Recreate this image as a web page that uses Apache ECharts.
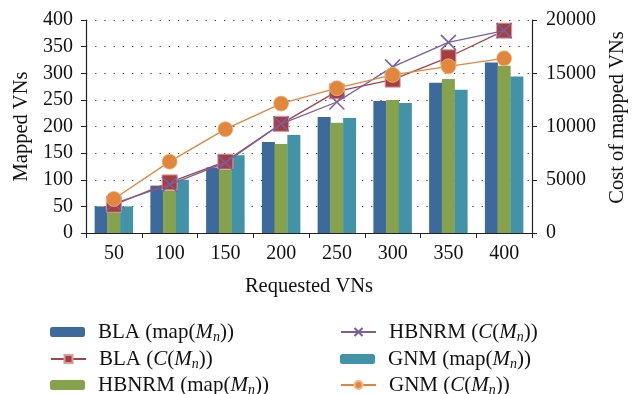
<!DOCTYPE html>
<html>
<head>
<meta charset="utf-8">
<script src="https://cdn.jsdelivr.net/npm/echarts@6/dist/echarts.min.js"></script>
<style>
  html, body { margin: 0; padding: 0; background: #fff; }
  #chart { width: 640px; height: 394px; }
</style>
</head>
<body>
<div id="chart"></div>
<script>
// Requested VNs on the category axis
const categories = ['50', '100', '150', '200', '250', '300', '350', '400'];

// Number of mapped VNs (left axis)
const blaMap = [50, 89, 123, 171, 218, 248, 282, 320];
const hbnrmMap = [44, 80, 119, 167, 207, 250, 289, 314];
const gnmMap = [50, 100, 146, 184, 216, 244, 269, 294];

// Cost of mapped VNs (right axis)
const blaCost = [2650, 4750, 6700, 10250, 13300, 14400, 16500, 19000];
const hbnrmCost = [2750, 4550, 6600, 10250, 12300, 15600, 17900, 19000];
const gnmCost = [3200, 6700, 9750, 12150, 13600, 14850, 15650, 16400];

const leftTicks = { min: 0, max: 400, interval: 50 };
const rightTicks = { min: 0, max: 20000, interval: 5000 };

const FONT = '"Liberation Serif", "DejaVu Serif", serif';
const INK = '#111';
const C = {
  blaBar: '#3d6a9d',
  hbnrmBar: '#87a24d',
  gnmBar: '#4293a8',
  blaLine: '#a3434a',
  hbnrmLine: '#7a5fa0',
  gnmLine: '#e0873b'
};

const names = {
  blaMap: 'BLA (map(Mn))',
  blaCost: 'BLA (C(Mn))',
  hbnrmMap: 'HBNRM (map(Mn))',
  hbnrmCost: 'HBNRM (C(Mn))',
  gnmMap: 'GNM (map(Mn))',
  gnmCost: 'GNM (C(Mn))'
};

// Legend labels with italic M, subscript n and italic C
function legendLabel(name) {
  const m = name.match(/^(\S+) \((map|C)\(Mn\)\)$/);
  if (!m) return name;
  const fn = m[2] === 'C' ? '{i|C}' : 'map';
  return m[1] + ' (' + fn + '({i|M}{s|n}))';
}

const legendText = {
  fontFamily: FONT,
  fontSize: 21,
  lineHeight: 24,
  color: INK,
  padding: [0, 0, 0, 8],
  rich: {
    i: { fontFamily: FONT, fontSize: 21, lineHeight: 24, fontStyle: 'italic', color: INK },
    s: { fontFamily: FONT, fontSize: 14, lineHeight: 24, fontStyle: 'italic', color: INK, padding: [10, 0, 0, 0] }
  }
};

// One legend entry per block so the two columns keep their reading order
const legendSlots = [
  { name: names.blaMap, left: 50, top: 320 },
  { name: names.blaCost, left: 50, top: 347 },
  { name: names.hbnrmMap, left: 50, top: 373 },
  { name: names.hbnrmCost, left: 340, top: 320 },
  { name: names.gnmMap, left: 340, top: 347 },
  { name: names.gnmCost, left: 340, top: 373 }
];

const crossPath = 'path://M0,0L10,10M10,0L0,10';
const tickFont = { fontFamily: FONT, fontSize: 20, color: INK };
const nameFont = { fontFamily: FONT, fontSize: 20.5, color: INK };

const chart = echarts.init(document.getElementById('chart'), null, { renderer: 'canvas' });

chart.setOption({
  animation: false,
  backgroundColor: '#fff',
  textStyle: { fontFamily: FONT },
  grid: { left: 86, right: 108, top: 20, bottom: 161, containLabel: false },
  legend: legendSlots.map(s => ({
    left: s.left,
    top: s.top,
    padding: 0,
    itemWidth: 35,
    itemHeight: 10,
    data: [s.name],
    formatter: legendLabel,
    textStyle: legendText
  })),
  xAxis: [
    {
      type: 'category',
      data: categories,
      boundaryGap: true,
      name: 'Requested VNs',
      nameLocation: 'middle',
      nameGap: 43,
      nameTextStyle: nameFont,
      axisLine: { lineStyle: { color: '#222', width: 1.2 } },
      axisTick: { show: true, inside: false, length: 5, alignWithLabel: false, lineStyle: { color: '#222' } },
      axisLabel: Object.assign({ margin: 11 }, tickFont),
      splitLine: { show: false }
    },
    {
      type: 'category',
      data: categories,
      position: 'top',
      axisLine: { show: true, lineStyle: { color: '#222', width: 1.2 } },
      axisTick: { show: false },
      axisLabel: { show: false },
      splitLine: { show: false }
    }
  ],
  yAxis: [
    {
      type: 'value',
      min: leftTicks.min,
      max: leftTicks.max,
      interval: leftTicks.interval,
      name: 'Mapped VNs',
      nameLocation: 'middle',
      nameGap: 53,
      nameTextStyle: nameFont,
      axisLine: { show: true, lineStyle: { color: '#222', width: 1.2 } },
      axisTick: { show: true, inside: false, length: 5, lineStyle: { color: '#222' } },
      axisLabel: Object.assign({ margin: 13 }, tickFont),
      splitLine: { show: true, lineStyle: { color: '#333', type: [1.2, 8], width: 1.2 } }
    },
    {
      type: 'value',
      min: rightTicks.min,
      max: rightTicks.max,
      interval: rightTicks.interval,
      name: 'Cost of mapped VNs',
      nameLocation: 'middle',
      nameGap: 72,
      nameRotate: 90,
      nameTextStyle: Object.assign({ padding: [0, 0, 0, 18] }, nameFont),
      axisLine: { show: true, lineStyle: { color: '#222', width: 1.2 } },
      axisTick: { show: true, inside: false, length: 5, lineStyle: { color: '#222' } },
      axisLabel: Object.assign({ margin: 14, formatter: v => String(v) }, tickFont),
      splitLine: { show: false }
    }
  ],
  series: [
    {
      name: names.blaMap, type: 'bar', yAxisIndex: 0, data: blaMap,
      barWidth: 13, barGap: '-2%',
      itemStyle: { color: C.blaBar }
    },
    {
      name: names.blaCost, type: 'line', yAxisIndex: 1, data: blaCost,
      symbol: 'rect', symbolSize: 15,
      lineStyle: { color: C.blaLine, width: 1.3 },
      itemStyle: { color: '#a33f40', borderColor: '#d89a9c', borderWidth: 1 },
      z: 3
    },
    {
      name: names.hbnrmMap, type: 'bar', yAxisIndex: 0, data: hbnrmMap,
      barWidth: 13, barGap: '-2%',
      itemStyle: { color: C.hbnrmBar }
    },
    {
      name: names.hbnrmCost, type: 'line', yAxisIndex: 1, data: hbnrmCost,
      symbol: crossPath, symbolSize: 15,
      lineStyle: { color: C.hbnrmLine, width: 1.3 },
      itemStyle: { color: 'none', borderColor: C.hbnrmLine, borderWidth: 1.5 },
      z: 4
    },
    {
      name: names.gnmMap, type: 'bar', yAxisIndex: 0, data: gnmMap,
      barWidth: 13, barGap: '-2%',
      itemStyle: { color: C.gnmBar }
    },
    {
      name: names.gnmCost, type: 'line', yAxisIndex: 1, data: gnmCost,
      symbol: 'circle', symbolSize: 15,
      lineStyle: { color: C.gnmLine, width: 1.3 },
      itemStyle: { color: C.gnmLine, borderColor: '#f0b888', borderWidth: 0.8 },
      z: 5
    }
  ]
});
</script>
</body>
</html>
